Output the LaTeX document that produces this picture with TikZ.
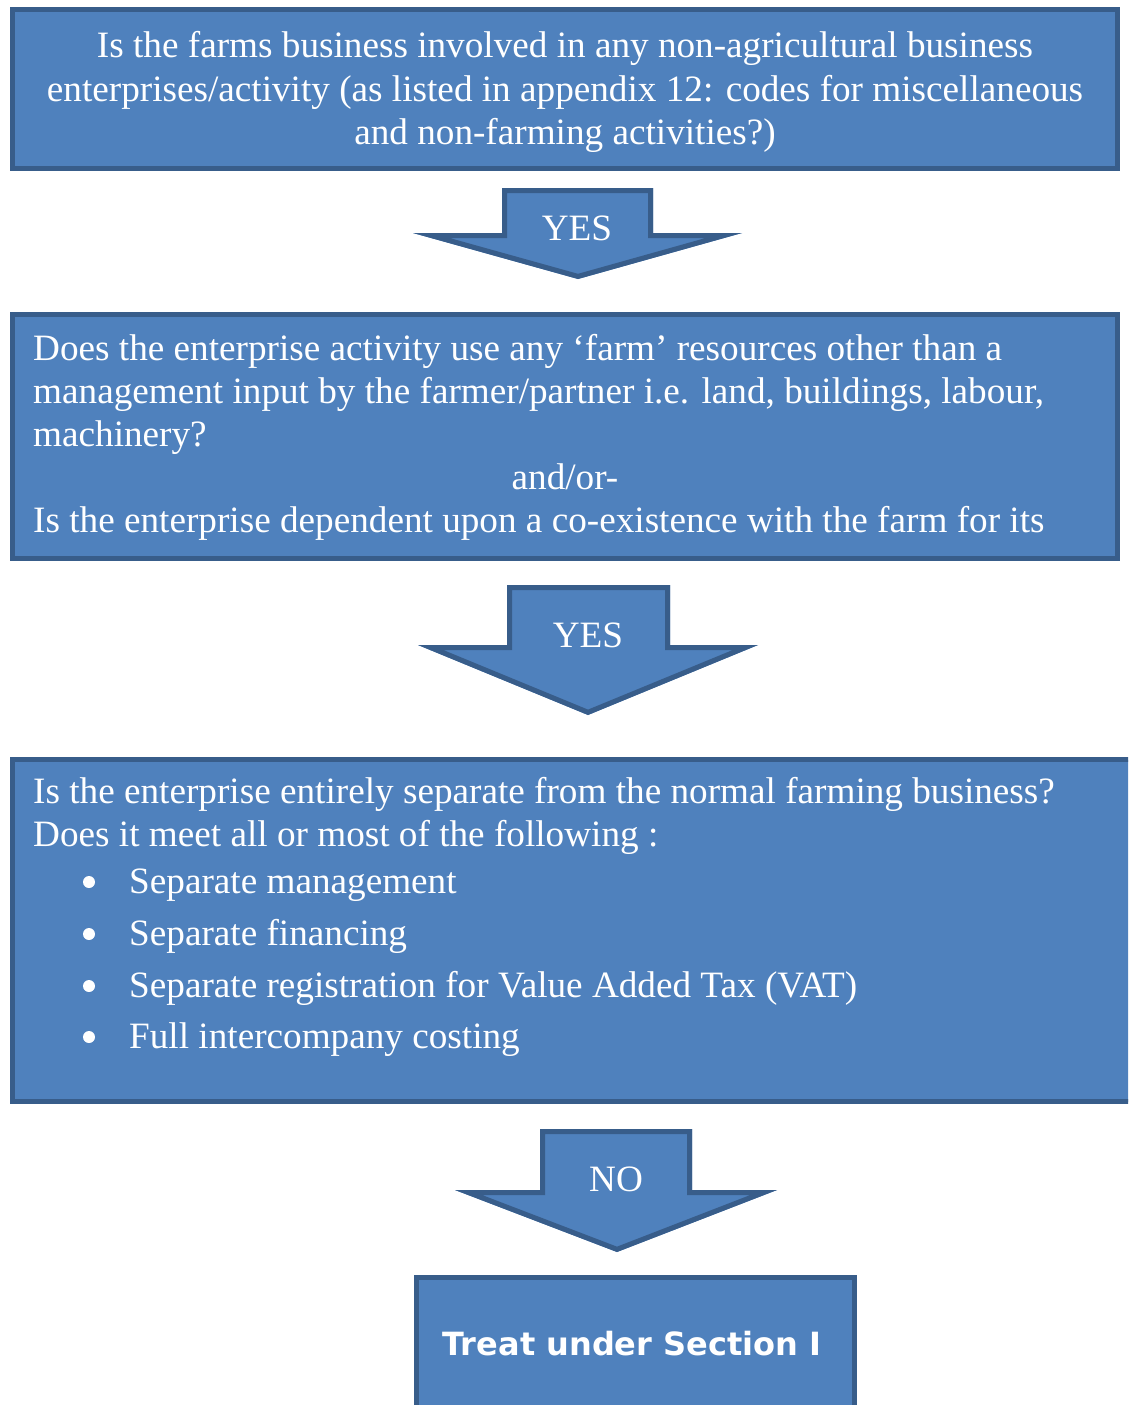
\documentclass[tikz,border=0pt]{standalone}
\usepackage{fontspec}
\setmainfont{Liberation Serif}
\newfontfamily\verdfam{DejaVu Sans}
\definecolor{boxfill}{HTML}{4F81BD}
\definecolor{boxline}{HTML}{385D8A}
\newcommand{\bodyfont}{\fontsize{37.2}{43}\selectfont}
\begin{document}
\begin{tikzpicture}[x=1pt,y=-1pt,
  box/.style={fill=boxfill, draw=boxline, line width=5pt, inner sep=0pt, outer sep=0pt},
  ln/.style={text=white, font=\bodyfont, inner sep=0pt, anchor=base west},
  lnc/.style={text=white, font=\bodyfont, inner sep=0pt, anchor=base},
  bul/.style={fill=white, draw=none, circle, minimum size=12pt, inner sep=0pt}]
\useasboundingbox (0,0) rectangle (1128,1405);
\clip (0,0) rectangle (1128,1405);

% ---------- Box 1
\node[box, minimum width=1105pt, minimum height=159pt] (b1) at (565,89) {};
\node[lnc] (b1l1) at (565,58) {Is the farms business involved in any non-agricultural business};
\node[lnc] (b1l2) at (565,101) {enterprises/activity (as listed in appendix 12: codes for miscellaneous};
\node[lnc] (b1l3) at (565,144) {and non-farming activities?)};

% ---------- Arrow 1
\begin{scope}
\path[fill=boxfill] (502,188) -- (653,188) -- (653,233) -- (742,233) -- (578,279) -- (413,233) -- (502,233) -- cycle;
\clip (502,188) -- (653,188) -- (653,233) -- (742,233) -- (578,279) -- (413,233) -- (502,233) -- cycle;
\draw[boxline, line width=10pt] (502,188) -- (653,188) -- (653,233) -- (742,233) -- (578,279) -- (413,233) -- (502,233) -- cycle;
\end{scope}
\node[lnc] (a1) at (577,240) {YES};

% ---------- Box 2
\node[box, minimum width=1105pt, minimum height=244pt] (b2) at (565,436) {};
\node[ln] (b2l1) at (33,360) {Does the enterprise activity use any ‘farm’ resources other than a};
\node[ln] (b2l2) at (33,403) {management input by the farmer/partner i.e. land, buildings, labour,};
\node[ln] (b2l3) at (33,446) {machinery?};
\node[lnc] (b2l4) at (565,489) {and/or-};
\node[ln] (b2l5) at (33,532) {Is the enterprise dependent upon a co-existence with the farm for its};

% ---------- Arrow 2
\begin{scope}
\path[fill=boxfill] (507,585) -- (670,585) -- (670,645) -- (758,645) -- (588,715) -- (418,645) -- (507,645) -- cycle;
\clip (507,585) -- (670,585) -- (670,645) -- (758,645) -- (588,715) -- (418,645) -- (507,645) -- cycle;
\draw[boxline, line width=10pt] (507,585) -- (670,585) -- (670,645) -- (758,645) -- (588,715) -- (418,645) -- (507,645) -- cycle;
\end{scope}
\node[lnc] (a2) at (588,647) {YES};

% ---------- Box 3
\node[box, minimum width=1127pt, minimum height=342pt] (b3) at (576,930.5) {};
\node[ln] (b3l1) at (33,803) {Is the enterprise entirely separate from the normal farming business?};
\node[ln] (b3l2) at (33,846) {Does it meet all or most of the following :};
\node[bul] (bu1) at (89,882) {};
\node[ln] (b3i1) at (129,893) {Separate management};
\node[bul] (bu2) at (89,934) {};
\node[ln] (b3i2) at (129,945) {Separate financing};
\node[bul] (bu3) at (89,986) {};
\node[ln] (b3i3) at (129,997) {Separate registration for Value Added Tax (VAT)};
\node[bul] (bu4) at (89,1037) {};
\node[ln] (b3i4) at (129,1048) {Full intercompany costing};

% ---------- Arrow 3
\begin{scope}
\path[fill=boxfill] (540,1129) -- (692,1129) -- (692,1190) -- (777,1190) -- (617,1252) -- (455,1190) -- (540,1190) -- cycle;
\clip (540,1129) -- (692,1129) -- (692,1190) -- (777,1190) -- (617,1252) -- (455,1190) -- (540,1190) -- cycle;
\draw[boxline, line width=10pt] (540,1129) -- (692,1129) -- (692,1190) -- (777,1190) -- (617,1252) -- (455,1190) -- (540,1190) -- cycle;
\end{scope}
\node[lnc] (a3) at (616,1191) {NO};

% ---------- Box 4
\node[box, minimum width=438pt, minimum height=150pt] (b4) at (635.5,1352.5) {};
\node[text=white, inner sep=0pt, anchor=base, font={\verdfam\bfseries\fontsize{32}{38}\selectfont}] (b4t) at (632,1355) {Treat under Section I};
\end{tikzpicture}
\end{document}
